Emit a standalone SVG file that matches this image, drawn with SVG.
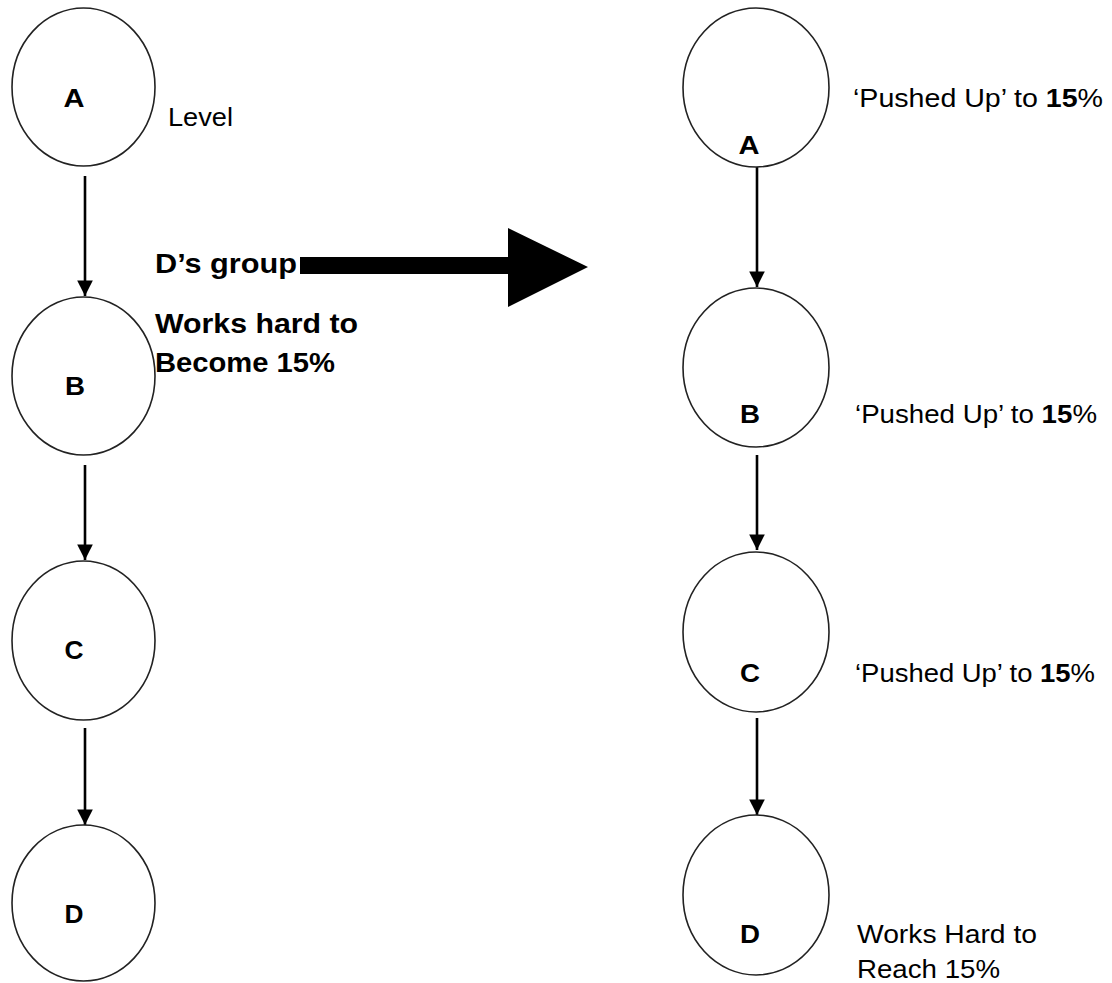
<svg xmlns="http://www.w3.org/2000/svg" width="1112" height="983" viewBox="0 0 1112 983">
<defs>
<style>
.node{fill:#fff;stroke:#222;stroke-width:1.6}
.lbl{font-family:"Liberation Sans",Arial,sans-serif;font-weight:bold;font-size:25px;fill:#000;text-anchor:middle}
.txt{font-family:"Liberation Sans",Arial,sans-serif;font-size:25px;fill:#000}
.btxt{font-family:"Liberation Sans",Arial,sans-serif;font-size:28px;font-weight:bold;fill:#000}
.conn{stroke:#000;stroke-width:2.6;fill:none}
</style>
<marker id="ah" viewBox="0 0 10 10" refX="10" refY="5" markerWidth="6" markerHeight="6" markerUnits="strokeWidth" orient="auto">
<path d="M0,0 L10,5 L0,10 z" fill="#000"/>
</marker>
</defs>
<rect width="1112" height="983" fill="#fff"/>

<g id="connectors">
<line class="conn" x1="85" y1="176" x2="85" y2="296" marker-end="url(#ah)"/>
<line class="conn" x1="85" y1="465" x2="85" y2="560" marker-end="url(#ah)"/>
<line class="conn" x1="85" y1="728" x2="85" y2="825" marker-end="url(#ah)"/>
<line class="conn" x1="757" y1="167" x2="757" y2="287" marker-end="url(#ah)"/>
<line class="conn" x1="757" y1="455" x2="757" y2="550" marker-end="url(#ah)"/>
<line class="conn" x1="757" y1="718" x2="757" y2="815" marker-end="url(#ah)"/>
<polygon id="big-arrow" points="300,257 508,257 508,228 588,267 508,307 508,274 300,274" fill="#000"/>
</g>

<g id="left-A">
<ellipse class="node" cx="83.5" cy="87" rx="71.5" ry="79"/>
<text class="lbl" x="74" y="107" textLength="21" lengthAdjust="spacingAndGlyphs">A</text>
<text class="txt" x="168" y="126" textLength="65" lengthAdjust="spacingAndGlyphs">Level</text>
</g>
<g id="left-B">
<ellipse class="node" cx="83.5" cy="376" rx="71.5" ry="79"/>
<text class="lbl" x="75" y="395" textLength="20" lengthAdjust="spacingAndGlyphs">B</text>
</g>
<g id="left-C">
<ellipse class="node" cx="83.5" cy="640.5" rx="71.5" ry="79.5"/>
<text class="lbl" x="74" y="659" textLength="19" lengthAdjust="spacingAndGlyphs">C</text>
</g>
<g id="left-D">
<ellipse class="node" cx="83.5" cy="903" rx="71.5" ry="78"/>
<text class="lbl" x="74" y="923" textLength="19" lengthAdjust="spacingAndGlyphs">D</text>
</g>

<g id="group-label">
<text class="btxt" x="155" y="273" textLength="142" lengthAdjust="spacingAndGlyphs">D’s group</text>
<text class="btxt" x="155" y="333" textLength="203" lengthAdjust="spacingAndGlyphs">Works hard to</text>
<text class="btxt" x="155" y="372" textLength="180" lengthAdjust="spacingAndGlyphs">Become 15%</text>
</g>

<g id="right-A">
<ellipse class="node" cx="756" cy="87.5" rx="73" ry="79.5"/>
<text class="lbl" x="749" y="154" textLength="21" lengthAdjust="spacingAndGlyphs">A</text>
<text class="txt" x="853" y="107" textLength="250" lengthAdjust="spacingAndGlyphs">‘Pushed Up’ to <tspan font-weight="bold">15</tspan>%</text>
</g>
<g id="right-B">
<ellipse class="node" cx="756" cy="367.5" rx="73" ry="79.5"/>
<text class="lbl" x="750" y="423" textLength="20" lengthAdjust="spacingAndGlyphs">B</text>
<text class="txt" x="855" y="423" textLength="242" lengthAdjust="spacingAndGlyphs">‘Pushed Up’ to <tspan font-weight="bold">15</tspan>%</text>
</g>
<g id="right-C">
<ellipse class="node" cx="756" cy="632" rx="73" ry="80"/>
<text class="lbl" x="750" y="682" textLength="20" lengthAdjust="spacingAndGlyphs">C</text>
<text class="txt" x="855" y="682" textLength="240" lengthAdjust="spacingAndGlyphs">‘Pushed Up’ to <tspan font-weight="bold">15</tspan>%</text>
</g>
<g id="right-D">
<ellipse class="node" cx="756" cy="895" rx="73" ry="80"/>
<text class="lbl" x="750" y="943" textLength="20" lengthAdjust="spacingAndGlyphs">D</text>
<text class="txt" x="857" y="943" textLength="180" lengthAdjust="spacingAndGlyphs">Works Hard to</text>
<text class="txt" x="857" y="978" textLength="143" lengthAdjust="spacingAndGlyphs">Reach 15%</text>
</g>
</svg>
